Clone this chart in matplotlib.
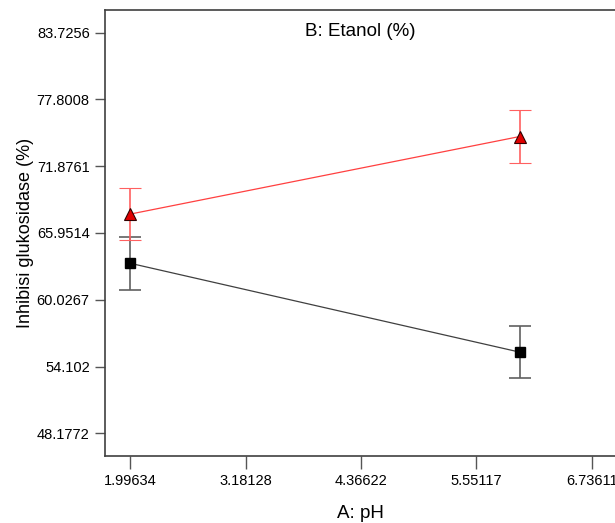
import matplotlib
matplotlib.use("Agg")
import matplotlib.pyplot as plt

plt.rcParams['font.family'] = ['Liberation Sans', 'DejaVu Sans']

ph = [1.99634, 5.995]
red_vals = [67.63, 74.51]
red_err = [2.34, 2.34]
black_vals = [63.26, 55.38]
black_err = [2.34, 2.34]
xticks = [1.99634, 3.18128, 4.36622, 5.55117, 6.73611]
xtick_labels = ["1.99634", "3.18128", "4.36622", "5.55117", "6.73611"]
yticks = [48.1772, 54.102, 60.0267, 65.9514, 71.8761, 77.8008, 83.7256]
ytick_labels = ["48.1772", "54.102", "60.0267", "65.9514", "71.8761", "77.8008", "83.7256"]

fig = plt.figure(figsize=(6.15, 5.23), dpi=100)
W, H = 615, 523
ax = fig.add_axes([105 / W, 1 - 456 / H, (615 - 105) / W, (456 - 10) / H])

ax.errorbar(ph, black_vals, yerr=black_err, color='#404040', lw=0.9,
            ecolor='#606060', elinewidth=1.2, capsize=8, capthick=1.2,
            marker='s', markersize=7, markerfacecolor='black', markeredgecolor='black', zorder=3)
ax.errorbar(ph, red_vals, yerr=red_err, color='#ff4040', lw=0.9,
            ecolor='#ff6060', elinewidth=1.2, capsize=8, capthick=1.2,
            marker='^', markersize=8, markerfacecolor='#e00000', markeredgecolor='#300000',
            markeredgewidth=0.8, zorder=4)

ax.set_xlim(1.736, 6.975)
ax.set_ylim(46.16, 85.74)
ax.set_xticks(xticks)
ax.set_xticklabels(xtick_labels)
ax.set_yticks(yticks)
ax.set_yticklabels(ytick_labels)
ax.tick_params(axis='both', direction='out', colors='#555555', labelcolor='black',
               labelsize=10.5, width=1)
ax.tick_params(axis='y', length=7, pad=4)
ax.tick_params(axis='x', length=9, pad=4)
for side in ['left', 'bottom', 'top']:
    ax.spines[side].set_color('#404040')
    ax.spines[side].set_linewidth(1.2)
ax.spines['right'].set_visible(False)

ax.set_xlabel("A: pH", fontsize=13.5, labelpad=12)
ax.set_ylabel("Inhibisi glukosidase (%)", fontsize=13, labelpad=2)
ax.text(0.5, 0.97, "B: Etanol (%)", transform=ax.transAxes, ha='center', va='top', fontsize=13.5)

fig.savefig("out.png", dpi=100)
